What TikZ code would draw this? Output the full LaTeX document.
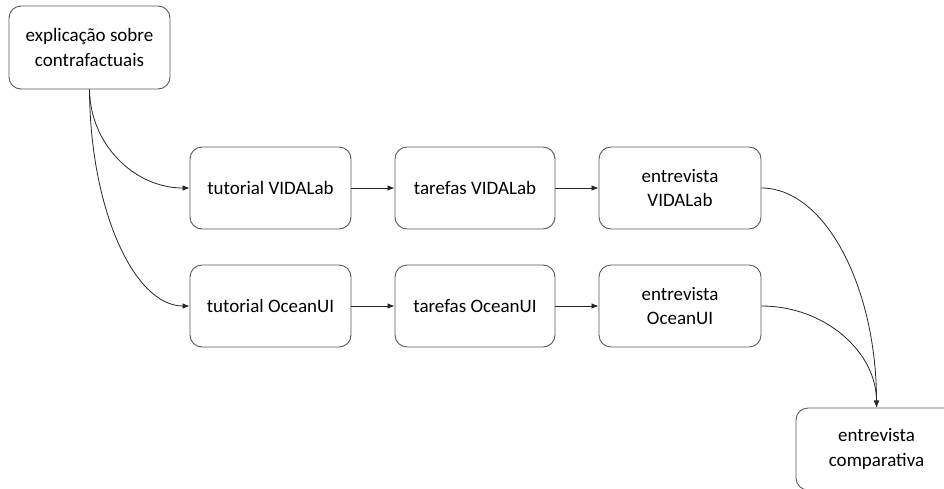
\documentclass[tikz,border=0pt]{standalone}
\usepackage{fontspec}
\setmainfont{Carlito}
\usetikzlibrary{arrows.meta}
\begin{document}
\begin{tikzpicture}[x=1pt,y=-1pt,
  box/.style={draw=black!65, line width=0.9pt, rounded corners=12pt, fill=white,
    minimum width=161pt, minimum height=82pt, align=center, inner sep=2pt,
    font=\fontsize{19}{24.5}\selectfont},
  conn/.style={draw=black!85, line width=0.8pt, -{Latex[length=7pt,width=5.5pt]}}]
\clip (0,0) rectangle (944,488);
\fill[white] (0,0) rectangle (944,488);
\node[box, minimum height=83pt] (expl) at (89.5,47.5) {explicação sobre\\contrafactuais};
\node[box] (tv) at (270.5,188) {tutorial VIDALab};
\node[box, minimum width=160pt] (fv) at (475,188) {tarefas VIDALab};
\node[box, minimum width=162pt] (ev) at (680,188) {entrevista\\VIDALab};
\node[box] (to) at (270.5,306) {tutorial OceanUI};
\node[box, minimum width=160pt] (fo) at (475,306) {tarefas OceanUI};
\node[box, minimum width=162pt] (eo) at (680,306) {entrevista\\OceanUI};
\node[box] (ec) at (876.5,449) {entrevista\\comparativa};
\draw[conn] (expl.south) .. controls (90,144) and (134,188) .. (tv.west);
\draw[conn] (expl.south) .. controls (90,209) and (134,306) .. (to.west);
\draw[conn] (tv) -- (fv);
\draw[conn] (fv) -- (ev);
\draw[conn] (to) -- (fo);
\draw[conn] (fo) -- (eo);
\draw[conn] (ev.east) .. controls (825,188) and (876.5,287) .. (ec.north);
\draw[conn] (eo.east) .. controls (825,306) and (876.5,352) .. (ec.north);
\end{tikzpicture}
\end{document}
